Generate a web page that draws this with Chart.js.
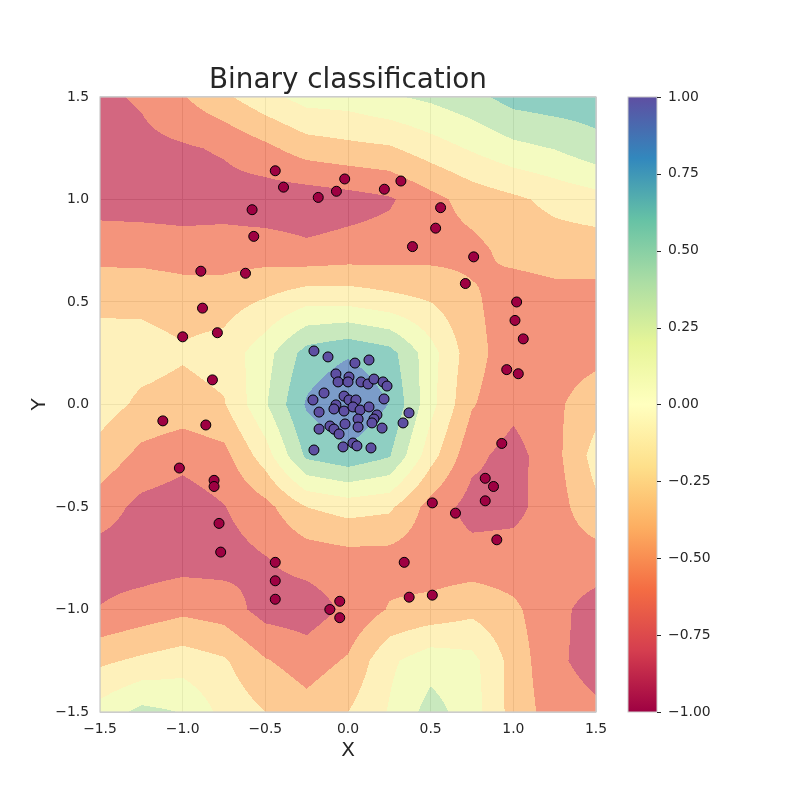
<!DOCTYPE html>
<html>
<head>
<meta charset="utf-8">
<script src="https://cdn.jsdelivr.net/npm/chart.js@4.4.1/dist/chart.umd.min.js"></script>
<style>
  html, body { margin: 0; padding: 0; background: #ffffff; }
  #wrap { width: 800px; height: 800px; }
</style>
</head>
<body>
<div id="wrap"><canvas id="clfChart" width="800" height="800"></canvas></div>
<script>
// decision surface, sampled on a 0.25 grid (rows go from y = 1.5 down to y = -1.5)
const gridX = [-1.5, -1.25, -1.0, -0.75, -0.5, -0.25, 0, 0.25, 0.5, 0.75, 1.0, 1.25, 1.5];
const gridY = [1.5, 1.25, 1.0, 0.75, 0.5, 0.25, 0, -0.25, -0.5, -0.75, -1.0, -1.25, -1.5];
const zGrid = [
  [-0.80, -0.72, -0.52, -0.30, -0.08,  0.10,  0.12,  0.22,  0.30,  0.42,  0.60,  0.65,  0.65],
  [-0.86, -0.82, -0.78, -0.72, -0.56, -0.38, -0.32, -0.28, -0.12,  0.03,  0.18,  0.26,  0.41],
  [-0.86, -0.87, -0.88, -0.86, -0.90, -0.90, -0.85, -0.78, -0.58, -0.40, -0.30, -0.18, -0.10],
  [-0.59, -0.60, -0.63, -0.63, -0.63, -0.70, -0.66, -0.64, -0.60, -0.57, -0.42, -0.38, -0.38],
  [-0.31, -0.30, -0.35, -0.35, -0.22, -0.05, -0.06, -0.15, -0.25, -0.45, -0.65, -0.60, -0.60],
  [-0.12, -0.15, -0.22, -0.15,  0.15,  0.60,  0.72,  0.60,  0.10, -0.40, -0.65, -0.62, -0.58],
  [-0.14, -0.30, -0.35, -0.27,  0.22,  0.78,  1.00,  0.74,  0.08, -0.48, -0.68, -0.55, -0.35],
  [-0.34, -0.57, -0.67, -0.58, -0.12,  0.55,  0.68,  0.52, -0.15, -0.68, -0.85, -0.58, -0.15],
  [-0.63, -0.82, -0.88, -0.76, -0.58, -0.25, -0.15, -0.20, -0.60, -0.85, -0.82, -0.62, -0.30],
  [-0.86, -0.88, -0.86, -0.85, -0.76, -0.65, -0.60, -0.60, -0.65, -0.65, -0.65, -0.63, -0.62],
  [-0.74, -0.65, -0.56, -0.62, -0.85, -0.88, -0.70, -0.48, -0.42, -0.32, -0.45, -0.68, -0.85],
  [-0.30, -0.20, -0.12, -0.22, -0.48, -0.62, -0.47, -0.05,  0.15,  0.08, -0.35, -0.70, -0.85],
  [ 0.10,  0.32,  0.24, -0.08, -0.25, -0.40, -0.25,  0.02,  0.35,  0.12, -0.35, -0.62, -0.70]
];
const levels = [-1, -0.75, -0.5, -0.25, 0, 0.25, 0.5, 0.75, 1];

// training points, class -1 (red) and class +1 (purple)
const negX = [-0.44, -0.39, -0.02, -0.07, -0.18, -0.58, -0.57, 0.22, 0.32, 0.56, 0.53, 0.39, 0.76, 0.71,
  1.02, 1.01, 1.06, 0.96, 1.03, -0.89, -0.62, -0.88, -0.79, -1.00, -0.82, -1.12, -0.86, -1.02, -0.81, -0.81,
  -0.78, -0.77, -0.44, -0.44, -0.44, -0.05, -0.11, -0.05, 0.34, 0.37, 0.51, 0.51, 0.65, 0.93, 0.83, 0.88, 0.83, 0.90];
const negY = [1.14, 1.06, 1.10, 1.04, 1.01, 0.95, 0.82, 1.05, 1.09, 0.96, 0.86, 0.77, 0.72, 0.59,
  0.50, 0.41, 0.32, 0.17, 0.15, 0.65, 0.64, 0.47, 0.35, 0.33, 0.12, -0.08, -0.10, -0.31, -0.37, -0.40,
  -0.58, -0.72, -0.77, -0.86, -0.95, -0.96, -1.00, -1.04, -0.77, -0.94, -0.93, -0.48, -0.53, -0.19, -0.36, -0.40, -0.47, -0.66];
const posX = [-0.206, -0.121, 0.042, 0.127, -0.073, 0.006, -0.060, 0.000, 0.079, 0.121, 0.157, 0.212, 0.236,
  -0.145, -0.024, 0.006, 0.048, 0.218, -0.212, -0.073, -0.085, -0.024, 0.030, 0.073, 0.127, -0.175, 0.175,
  0.061, 0.157, 0.145, -0.018, 0.061, 0.206, -0.109, -0.175, -0.085, -0.054, 0.369, 0.333, -0.206, -0.030,
  0.030, 0.054, 0.139];
const posY = [0.261, 0.232, 0.202, 0.217, 0.149, 0.134, 0.110, 0.110, 0.110, 0.100, 0.124, 0.110, 0.090,
  0.056, 0.041, 0.022, 0.022, 0.027, 0.022, -0.002, -0.022, -0.032, -0.012, -0.027, -0.012, -0.037, -0.051,
  -0.071, -0.071, -0.090, -0.095, -0.110, -0.115, -0.105, -0.120, -0.120, -0.144, -0.041, -0.090, -0.222, -0.207,
  -0.188, -0.202, -0.212];

const xTicks = [-1.5, -1.0, -0.5, 0.0, 0.5, 1.0, 1.5];
const yTicks = [-1.5, -1.0, -0.5, 0.0, 0.5, 1.0, 1.5];
const cbarTicks = [-1.0, -0.75, -0.5, -0.25, 0.0, 0.25, 0.5, 0.75, 1.0];

// matplotlib "Spectral"
const spectral = ['#9e0142', '#d53e4f', '#f46d43', '#fdae61', '#fee08b', '#ffffbf',
  '#e6f598', '#abdda4', '#66c2a5', '#3288bd', '#5e4fa2'];

const FONT = "'DejaVu Sans', 'Liberation Sans', sans-serif";
const TEXT = '#262626';

function hexRgb(h) {
  return [parseInt(h.slice(1, 3), 16), parseInt(h.slice(3, 5), 16), parseInt(h.slice(5, 7), 16)];
}
function spectralAt(t) {
  const f = Math.min(Math.max(t, 0), 1) * (spectral.length - 1);
  const i = Math.min(Math.floor(f), spectral.length - 2);
  const a = hexRgb(spectral[i]), b = hexRgb(spectral[i + 1]), u = f - i;
  return a.map((c, k) => Math.round(c + (b[k] - c) * u));
}
const bandColors = levels.slice(0, -1).map((lo, k) => spectralAt(((lo + levels[k + 1]) / 2 + 1) / 2));

function zAt(xv, yv) {
  const nx = gridX.length, ny = gridY.length;
  let fx = (xv - gridX[0]) / (gridX[nx - 1] - gridX[0]) * (nx - 1);
  let fy = (gridY[0] - yv) / (gridY[0] - gridY[ny - 1]) * (ny - 1);
  fx = Math.min(Math.max(fx, 0), nx - 1.0001);
  fy = Math.min(Math.max(fy, 0), ny - 1.0001);
  const i = Math.floor(fx), j = Math.floor(fy), tx = fx - i, ty = fy - j;
  const top = zGrid[j][i] * (1 - tx) + zGrid[j][i + 1] * tx;
  const bot = zGrid[j + 1][i] * (1 - tx) + zGrid[j + 1][i + 1] * tx;
  return top * (1 - ty) + bot * ty;
}
function bandOf(z) {
  for (let k = 0; k < levels.length - 2; k++) {
    if (z < levels[k + 1]) return k;
  }
  return levels.length - 2;
}

const fmt = (v, d) => v.toFixed(d).replace('-', '\u2212');

// filled contours, drawn under the points but over the grid
const contourFill = {
  id: 'contourFill',
  beforeDatasetsDraw(chart) {
    const {ctx, chartArea: a, scales: {x, y}} = chart;
    const w = Math.round(a.right - a.left), h = Math.round(a.bottom - a.top);
    const off = document.createElement('canvas');
    off.width = w; off.height = h;
    const octx = off.getContext('2d');
    const img = octx.createImageData(w, h);
    const xv = [], yv = [];
    for (let i = 0; i < w; i++) xv.push(x.getValueForPixel(a.left + i + 0.5));
    for (let j = 0; j < h; j++) yv.push(y.getValueForPixel(a.top + j + 0.5));
    for (let j = 0; j < h; j++) {
      for (let i = 0; i < w; i++) {
        const c = bandColors[bandOf(zAt(xv[i], yv[j]))];
        const p = (j * w + i) * 4;
        img.data[p] = c[0]; img.data[p + 1] = c[1]; img.data[p + 2] = c[2]; img.data[p + 3] = 255;
      }
    }
    octx.putImageData(img, 0, 0);
    ctx.save();
    ctx.globalAlpha = 0.7;
    ctx.drawImage(off, a.left, a.top);
    ctx.restore();
  },
  afterDraw(chart) {
    const {ctx, chartArea: a, scales: {cbar}} = chart;
    ctx.save();
    // axes frame
    ctx.strokeStyle = '#cccccc';
    ctx.lineWidth = 1.25;
    ctx.strokeRect(a.left, a.top, a.right - a.left, a.bottom - a.top);
    // colorbar
    const x0 = 628, x1 = 657;
    const yb = cbar.getPixelForValue(-1), yt = cbar.getPixelForValue(1);
    const g = ctx.createLinearGradient(0, yb, 0, yt);
    spectral.forEach((c, i) => g.addColorStop(i / (spectral.length - 1), c));
    ctx.fillStyle = g;
    ctx.fillRect(x0, yt, x1 - x0, yb - yt);
    ctx.strokeStyle = '#cccccc';
    ctx.lineWidth = 1;
    ctx.strokeRect(x0, yt, x1 - x0, yb - yt);
    ctx.strokeStyle = TEXT;
    ctx.lineWidth = 1;
    cbarTicks.forEach(v => {
      const py = Math.round(cbar.getPixelForValue(v)) + 0.5;
      ctx.beginPath();
      ctx.moveTo(x1, py);
      ctx.lineTo(x1 + 4, py);
      ctx.stroke();
    });
    ctx.restore();
  }
};

new Chart(document.getElementById('clfChart'), {
  type: 'scatter',
  data: {
    datasets: [{
      label: 'class -1',
      data: negX.map((v, i) => ({x: v, y: negY[i]})),
      backgroundColor: '#9e0142',
      borderColor: '#000000',
      borderWidth: 1,
      pointRadius: 5
    }, {
      label: 'class 1',
      data: posX.map((v, i) => ({x: v, y: posY[i]})),
      backgroundColor: '#5e4fa2',
      borderColor: '#000000',
      borderWidth: 1,
      pointRadius: 5
    }]
  },
  options: {
    responsive: false,
    animation: false,
    events: [],
    layout: { padding: 0 },
    plugins: {
      legend: { display: false },
      tooltip: { enabled: false },
      title: {
        display: true,
        fullSize: false,
        text: 'Binary classification',
        color: TEXT,
        font: { family: FONT, size: 27.8, weight: 'normal' },
        padding: { top: 63.6, bottom: 0 }
      }
    },
    scales: {
      x: {
        type: 'linear', position: 'bottom', min: -1.5, max: 1.5,
        afterBuildTicks: s => { s.ticks = xTicks.map(v => ({value: v})); },
        afterFit: s => { s.height = 88; },
        grid: { color: '#cccccc', lineWidth: 1, drawTicks: false },
        border: { display: false },
        ticks: { color: TEXT, padding: 9, maxRotation: 0, autoSkip: false,
          font: { family: FONT, size: 13.9 }, callback: v => fmt(v, 1) },
        title: { display: true, text: 'X', color: TEXT,
          font: { family: FONT, size: 20 }, padding: { top: 0, bottom: 37.2 } }
      },
      y: {
        type: 'linear', position: 'left', min: -1.5, max: 1.5,
        afterBuildTicks: s => { s.ticks = yTicks.map(v => ({value: v})); },
        afterFit: s => { s.width = 100; },
        grid: { color: '#cccccc', lineWidth: 1, drawTicks: false },
        border: { display: false },
        ticks: { color: TEXT, padding: 11, autoSkip: false,
          font: { family: FONT, size: 13.9 }, callback: v => fmt(v, 1) },
        title: { display: true, text: 'Y', color: TEXT,
          font: { family: FONT, size: 20 }, padding: { top: 28.1, bottom: 0 } }
      },
      cbar: {
        type: 'linear', position: 'right', min: -1, max: 1,
        afterBuildTicks: s => { s.ticks = cbarTicks.map(v => ({value: v})); },
        afterFit: s => { s.width = 204; },
        grid: { display: false, drawTicks: false },
        border: { display: false },
        ticks: { color: TEXT, padding: 72, autoSkip: false,
          font: { family: FONT, size: 13.9 }, callback: v => fmt(v, 2) }
      }
    }
  },
  plugins: [contourFill]
});
</script>
</body>
</html>
